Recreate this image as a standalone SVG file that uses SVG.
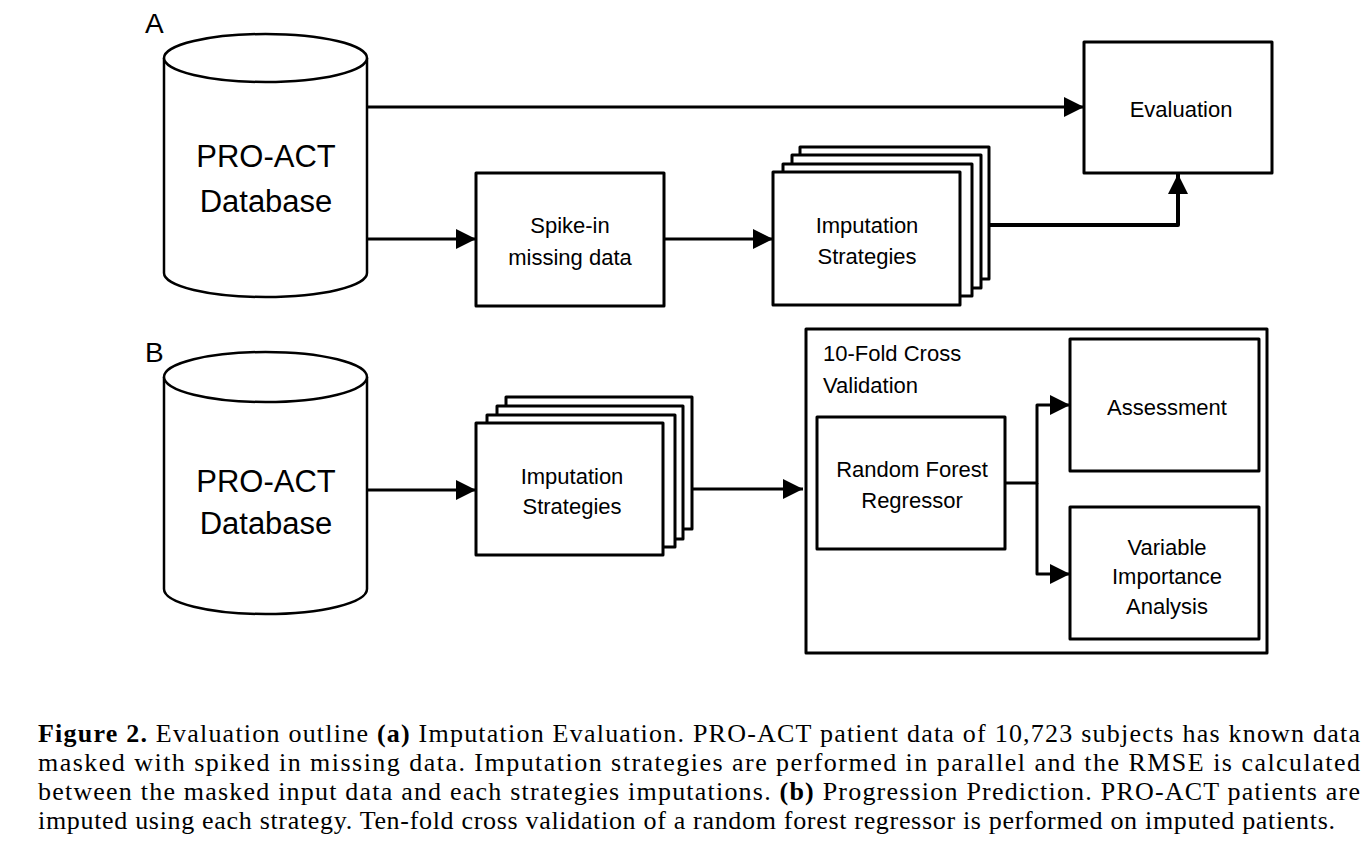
<svg xmlns="http://www.w3.org/2000/svg" width="1362" height="842" viewBox="0 0 1362 842">
<style>
.s{fill:#fff;stroke:#000;stroke-width:3;stroke-linejoin:round}
.c{fill:#fff;stroke:#000;stroke-width:2.5}
.t{font-family:"Liberation Sans",Arial,sans-serif;font-size:22px;fill:#000;text-anchor:middle}
.db{font-family:"Liberation Sans",Arial,sans-serif;font-size:31px;fill:#000;text-anchor:middle}
.lb{font-family:"Liberation Sans",Arial,sans-serif;font-size:28px;fill:#000}
.cap{font-family:"Liberation Serif","Times New Roman",serif;font-size:26px;fill:#000}
.e{fill:none;stroke:#000;stroke-width:3;stroke-linejoin:round}
</style>
<defs>
<marker id="ah" viewBox="0 0 20 20" refX="20" refY="10" markerWidth="20" markerHeight="20" markerUnits="userSpaceOnUse" orient="auto">
<path d="M0,0 L20,10 L0,20 z" fill="#000"/>
</marker>
</defs>
<rect width="1362" height="842" fill="#fff"/>
<text class="lb" x="145" y="33">A</text>
<text class="lb" x="145" y="362">B</text>
<g id="dbA">
<path class="c" d="M164,58 L164,273 A101.5,24 0 0 0 367,273 L367,58"/>
<ellipse class="c" cx="265.5" cy="58" rx="101.5" ry="24"/>
<text class="db" x="266" y="167">PRO-ACT</text>
<text class="db" x="266" y="212">Database</text>
</g>
<g id="evaluation">
<rect class="s" x="1084" y="42" width="188" height="131"/>
<text class="t" x="1181" y="117">Evaluation</text>
</g>
<g id="spike">
<rect class="s" x="476" y="173" width="188" height="133"/>
<text class="t" x="570" y="233">Spike-in</text>
<text class="t" x="570" y="265">missing data</text>
</g>
<g id="impA">
<rect class="s" x="800" y="147" width="189" height="132"/>
<rect class="s" x="792" y="155" width="189" height="133"/>
<rect class="s" x="783" y="164" width="189" height="132"/>
<rect class="s" x="773" y="172" width="187" height="133"/>
<text class="t" x="867" y="233">Imputation</text>
<text class="t" x="867" y="264">Strategies</text>
</g>
<g id="dbB">
<path class="c" d="M164,377 L164,589 A101.5,25 0 0 0 367,589 L367,377"/>
<ellipse class="c" cx="265.5" cy="377" rx="101.5" ry="25"/>
<text class="db" x="266" y="492">PRO-ACT</text>
<text class="db" x="266" y="534">Database</text>
</g>
<g id="impB">
<rect class="s" x="506" y="397" width="186" height="132"/>
<rect class="s" x="497" y="406" width="186" height="133"/>
<rect class="s" x="487" y="415" width="188" height="132"/>
<rect class="s" x="476" y="423" width="187" height="132"/>
<text class="t" x="572" y="484">Imputation</text>
<text class="t" x="572" y="514">Strategies</text>
</g>
<g id="cv">
<rect class="s" x="806" y="329" width="461" height="324"/>
<text class="t" x="823" y="361" style="text-anchor:start">10-Fold Cross</text>
<text class="t" x="823" y="393" style="text-anchor:start">Validation</text>
</g>
<g id="rf">
<rect class="s" x="817" y="417" width="188" height="132"/>
<text class="t" x="912" y="477">Random Forest</text>
<text class="t" x="912" y="508">Regressor</text>
</g>
<g id="assessment">
<rect class="s" x="1070" y="339" width="189" height="132"/>
<text class="t" x="1167" y="415">Assessment</text>
</g>
<g id="via">
<rect class="s" x="1070" y="507" width="189" height="132"/>
<text class="t" x="1167" y="555">Variable</text>
<text class="t" x="1167" y="584">Importance</text>
<text class="t" x="1167" y="614">Analysis</text>
</g>
<g id="connectors">
<path class="e" d="M367,107 H1084" marker-end="url(#ah)"/>
<path class="e" d="M367,239 H476" marker-end="url(#ah)"/>
<path class="e" d="M664,239 H773" marker-end="url(#ah)"/>
<path class="e" style="stroke-width:4" d="M989,225 H1178 V174" marker-end="url(#ah)"/>
<path class="e" d="M367,490 H476" marker-end="url(#ah)"/>
<path class="e" d="M692,489 H803" marker-end="url(#ah)"/>
<path class="e" d="M1005,483 H1037 V405 H1070" marker-end="url(#ah)"/>
<path class="e" d="M1037,483 V574 H1070" marker-end="url(#ah)"/>
</g>
<g id="caption">
<text class="cap" x="38" y="742" textLength="1322" lengthAdjust="spacing"><tspan font-weight="bold">Figure 2.</tspan> Evaluation outline <tspan font-weight="bold">(a)</tspan> Imputation Evaluation. PRO-ACT patient data of 10,723 subjects has known data</text>
<text class="cap" x="38" y="771" textLength="1322" lengthAdjust="spacing">masked with spiked in missing data. Imputation strategies are performed in parallel and the RMSE is calculated</text>
<text class="cap" x="38" y="800" textLength="1322" lengthAdjust="spacing">between the masked input data and each strategies imputations. <tspan font-weight="bold">(b)</tspan> Progression Prediction. PRO-ACT patients are</text>
<text class="cap" x="38" y="829" textLength="1297" lengthAdjust="spacing">imputed using each strategy. Ten-fold cross validation of a random forest regressor is performed on imputed patients.</text>
</g>
</svg>
